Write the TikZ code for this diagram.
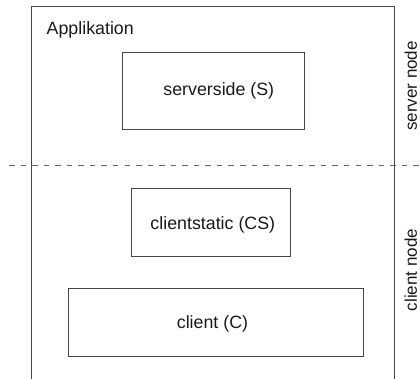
\documentclass[tikz,border=0pt]{standalone}
\usepackage{fontspec}
\setmainfont{Liberation Sans}
\begin{document}
\begin{tikzpicture}[x=1pt,y=-1pt,
  frame/.style={draw=black!72,line width=1pt,inner sep=0pt,outer sep=0pt},
  lbl/.style={inner sep=0pt,outer sep=0pt,text=black!90,font=\fontsize{17.8}{21}\selectfont},
  sidelbl/.style={inner sep=0pt,outer sep=0pt,text=black!90,font=\fontsize{17}{20}\selectfont,rotate=90,anchor=base}]
  % canvas
  \useasboundingbox (0,0) rectangle (420,379);
  % application frame and components
  \node[frame,minimum width=362.8pt,minimum height=372.3pt] (app) at (213.1,192.85) {};
  \node[lbl,anchor=west] (apptitle) at (46.7,30) {Applikation};
  \node[frame,minimum width=181.7pt,minimum height=77pt] (srv) at (213.15,90.8) {};
  \node[lbl] (srvtxt) at (218.8,91) {serverside (S)};
  \node[frame,minimum width=159pt,minimum height=68.4pt] (cst) at (211.2,222.5) {};
  \node[lbl] (csttxt) at (212.8,224.7) {clientstatic (CS)};
  \node[frame,minimum width=295pt,minimum height=67.7pt] (cli) at (215.5,322.2) {};
  \node[lbl] (clitxt) at (212.5,324) {client (C)};
  % node boundary
  \coordinate (sepL) at (9,165.5);
  \coordinate (sepR) at (420,165.5);
  \draw[black!60,line width=1pt,dash pattern=on 5.5pt off 6.05pt] (sepL) -- (sepR);
  % side labels
  \node[sidelbl] (srvnode) at (416.8,86) {server node};
  \node[sidelbl] (clinode) at (416.8,270) {client node};
\end{tikzpicture}
\end{document}
